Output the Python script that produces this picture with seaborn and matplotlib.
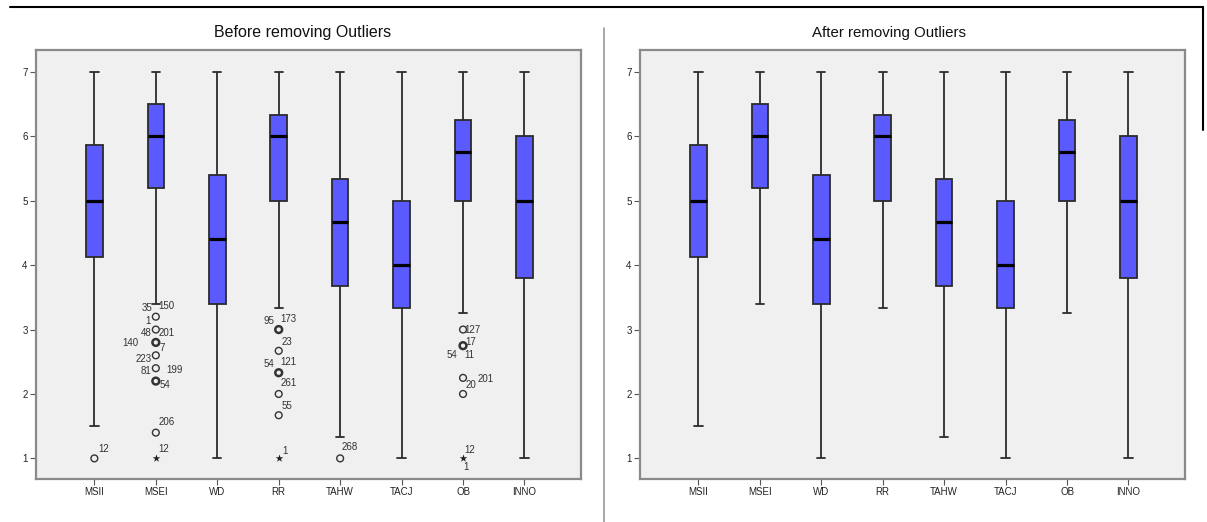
import matplotlib
matplotlib.use("Agg")
import matplotlib.pyplot as plt
from matplotlib.lines import Line2D
import pandas as pd
import seaborn as sns

# Box statistics per variable (same boxes in both panels)
categories = ["MSII", "MSEI", "WD", "RR", "TAHW", "TACJ", "OB", "INNO"]
whisker_low = [1.5, 3.4, 1.0, 3.33, 1.33, 1.0, 3.25, 1.0]
q1 = [4.13, 5.2, 3.4, 5.0, 3.67, 3.33, 5.0, 3.8]
median = [5.0, 6.0, 4.4, 6.0, 4.67, 4.0, 5.75, 5.0]
q3 = [5.87, 6.5, 5.4, 6.33, 5.33, 5.0, 6.25, 6.0]
whisker_high = [7.0, 7.0, 7.0, 7.0, 7.0, 7.0, 7.0, 7.0]

# Outliers, only in the "before" panel
out_cats = ["MSII", "MSEI", "MSEI", "MSEI", "MSEI", "MSEI", "MSEI", "MSEI", "MSEI",
            "RR", "RR", "RR", "RR", "RR", "RR", "TAHW", "OB", "OB", "OB", "OB", "OB"]
out_vals = [1.0, 3.2, 3.0, 2.8, 2.6, 2.4, 2.2, 1.4, 1.0,
            3.0, 2.67, 2.33, 2.0, 1.67, 1.0, 1.0, 3.0, 2.75, 2.25, 2.0, 1.0]
out_extreme = [False, False, False, False, False, False, False, False, True,
               False, False, False, False, False, True, False, False, False, False, False, True]
out_multi = [False, False, False, True, False, False, True, False, False,
             True, False, True, False, False, False, False, False, True, False, False, False]

# case-number labels: text, variable, x shift, y
case_labels = [
    ("12", "MSII", 0.15, 1.14),
    ("35", "MSEI", -0.15, 3.34), ("150", "MSEI", 0.18, 3.37), ("1", "MSEI", -0.12, 3.14),
    ("48", "MSEI", -0.15, 2.94), ("201", "MSEI", 0.17, 2.94), ("140", "MSEI", -0.41, 2.79),
    ("7", "MSEI", 0.11, 2.72), ("223", "MSEI", -0.2, 2.54), ("81", "MSEI", -0.16, 2.35),
    ("199", "MSEI", 0.31, 2.37), ("54", "MSEI", 0.15, 2.14), ("206", "MSEI", 0.17, 1.56),
    ("12", "MSEI", 0.13, 1.14),
    ("95", "RR", -0.16, 3.14), ("173", "RR", 0.16, 3.16), ("23", "RR", 0.14, 2.81),
    ("54", "RR", -0.16, 2.47), ("121", "RR", 0.16, 2.49), ("261", "RR", 0.16, 2.17),
    ("55", "RR", 0.14, 1.81), ("1", "RR", 0.10, 1.12),
    ("268", "TAHW", 0.15, 1.17),
    ("127", "OB", 0.16, 3.0), ("17", "OB", 0.13, 2.80), ("54", "OB", -0.18, 2.60),
    ("11", "OB", 0.10, 2.60), ("201", "OB", 0.36, 2.24), ("20", "OB", 0.13, 2.14),
    ("12", "OB", 0.11, 1.13), ("1", "OB", 0.05, 0.87),
]

BOX_BLUE = "#5A5AFF"
EDGE = "#2b2b2b"

sns.set_style("white")
plt.rcParams["font.family"] = ["Liberation Sans", "DejaVu Sans"]

# five-number summary as a small long table; seaborn rebuilds the same box from it
rows = []
for i, c in enumerate(categories):
    for v in (whisker_low[i], q1[i], median[i], q3[i], whisker_high[i]):
        rows.append({"var": c, "score": v})
box_df = pd.DataFrame(rows)

fig = plt.figure(figsize=(12.07, 5.22), dpi=100)
W, H = 1207, 522
ax_l = fig.add_axes([36 / W, 1 - 479 / H, 545 / W, 429 / H])
ax_r = fig.add_axes([640 / W, 1 - 479 / H, 545 / W, 429 / H])


def draw_panel(ax, title, title_x, title_size):
    sns.boxplot(data=box_df, x="var", y="score", order=categories, whis=(0, 100),
                width=0.27, color=BOX_BLUE, saturation=1, linecolor=EDGE, linewidth=1.3,
                medianprops=dict(color="black", linewidth=2.3), showfliers=False, ax=ax)
    ax.set_facecolor("#F0F0F0")
    ax.set_xlim(-0.95, 7.92)
    ax.set_ylim(0.68, 7.34)
    ax.set_yticks(range(1, 8))
    ax.set_xlabel("")
    ax.set_ylabel("")
    ax.tick_params(axis="both", bottom=True, left=True, labelsize=7, length=4,
                   width=0.8, color="#555555", labelcolor="#222222", pad=2)
    for s in ax.spines.values():
        s.set_color("#8a8a8a")
        s.set_linewidth(1.6)
    ax.set_title(title, fontsize=title_size, pad=9, color="#111111", x=title_x)


draw_panel(ax_l, "Before removing Outliers", 0.489, 11.5)
draw_panel(ax_r, "After removing Outliers", 0.456, 10.8)

# outlier markers on the left panel
for c, v, star, multi in zip(out_cats, out_vals, out_extreme, out_multi):
    x = categories.index(c)
    if star:
        ax_l.scatter([x], [v], marker="*", s=34, color="#222222", linewidths=0, zorder=5)
    else:
        ax_l.scatter([x], [v], marker="o", s=24, facecolors="none", edgecolors="#333333",
                     linewidths=1.8 if multi else 1.0, zorder=5)

for t, c, dx, y in case_labels:
    ax_l.text(categories.index(c) + dx, y, t, fontsize=7, ha="center", va="center",
              color="#333333")

# frame lines of the output window
fig.add_artist(Line2D([10 / W, 1203 / W], [1 - 7 / H, 1 - 7 / H], color="black", lw=1.5))
fig.add_artist(Line2D([1203 / W, 1203 / W], [1 - 7 / H, 1 - 130 / H], color="black", lw=1.5))
fig.add_artist(Line2D([603.5 / W, 603.5 / W], [1 - 28 / H, 0], color="#999999", lw=1.2))

fig.savefig("out.png", dpi=100)
